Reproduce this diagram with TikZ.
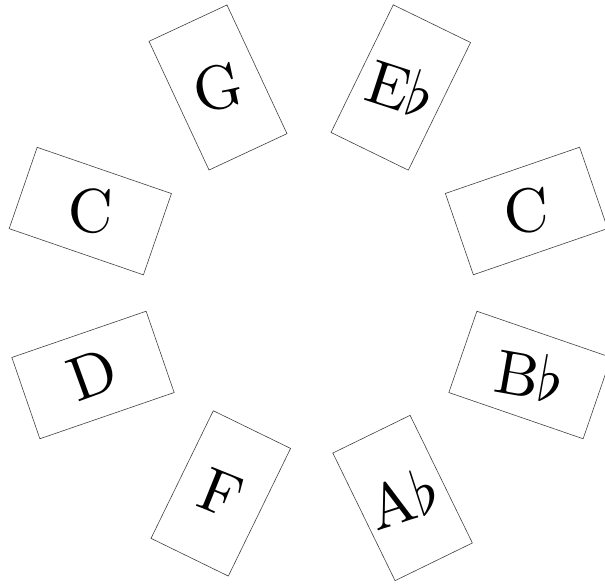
\documentclass[tikz,border=0pt]{standalone}
\usepackage{graphicx}
\usepackage{xcolor}
\definecolor{cardc}{HTML}{404040}
\newcommand{\bigletter}[1]{\scalebox{6.2}{#1}}

\begin{document}
\begin{tikzpicture}[
    card/.style={rectangle, draw=cardc, line width=0.6pt, minimum width=86pt, minimum height=142pt, inner sep=0pt},
    note/.style={inner sep=0pt},
    x=1pt, y=1pt]

  \clip (0,0) rectangle (605,584);

  % cards round the circle: centre x/y, card angle, letter angle, name, letter
  \foreach \px/\py/\r/\t/\nm/\txt in {
      218/496.5/25/12/g/G,
      400.8/496.5/-26/-18/eflat/E$\flat$,
      526.5/373/109/4/chigh/C,
      530/209/71/-10/bflat/B$\flat$,
      402.6/86/26/18/aflat/A$\flat$,
      220.8/90.6/-26/-22/f/F,
      93/209/109/20/d/D,
      90.3/372.9/71/-2/clow/C} {
    \node[card, rotate=\r] (card-\nm) at (\px,\py) {};
    \node[note, rotate=\t] (note-\nm) at (card-\nm) {\bigletter{\txt}};
  }
\end{tikzpicture}
\end{document}
